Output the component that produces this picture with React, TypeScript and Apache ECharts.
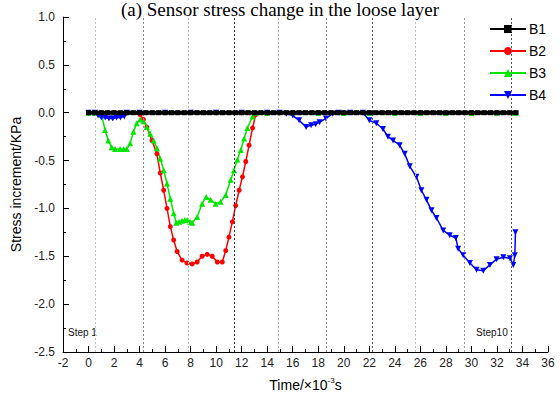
import React, { useEffect, useRef } from "react";
import * as echarts from "echarts";

const titleText = "(a) Sensor stress change in the loose layer";
const seriesNames = ["B1", "B2", "B3", "B4"];

const b1Time = [0, 0.5, 1, 1.5, 2, 2.5, 3, 3.5, 4, 4.5, 5, 5.5, 6, 6.5, 7, 7.5, 8, 8.5, 9, 9.5, 10, 10.5, 11, 11.5, 12, 12.5, 13, 13.5, 14, 14.5, 15, 15.5, 16, 16.5, 17, 17.5, 18, 18.5, 19, 19.5, 20, 20.5, 21, 21.5, 22, 22.5, 23, 23.5, 24, 24.5, 25, 25.5, 26, 26.5, 27, 27.5, 28, 28.5, 29, 29.5, 30, 30.5, 31, 31.5, 32, 32.5, 33, 33.5];
const b1Values = [0, 0, 0, 0, 0, 0, 0, 0, 0, 0, 0, 0, 0, 0, 0, 0, 0, 0, 0, 0, 0, 0, 0, 0, 0, 0, 0, 0, 0, 0, 0, 0, 0, 0, 0, 0, 0, 0, 0, 0, 0, 0, 0, 0, 0, 0, 0, 0, 0, 0, 0, 0, 0, 0, 0, 0, 0, 0, 0, 0, 0, 0, 0, 0, 0, 0, 0, 0];

const b2Time = [0, 1, 2, 3, 4.05, 4.3, 4.57, 4.97, 5.36, 5.62, 5.89, 6.15, 6.41, 6.67, 6.94, 7.33, 7.72, 8.12, 8.51, 8.9, 9.3, 9.69, 10.09, 10.48, 10.75, 11.0, 11.27, 11.53, 11.8, 12.06, 12.32, 12.58, 12.85, 13.1, 14, 16, 18, 20, 22, 24, 26, 28, 30, 32, 33.4];
const b2Values = [0, 0, 0, 0, -0.02, -0.07, -0.15, -0.29, -0.43, -0.63, -0.81, -1.0, -1.19, -1.33, -1.45, -1.54, -1.57, -1.58, -1.56, -1.5, -1.48, -1.5, -1.56, -1.56, -1.44, -1.3, -1.14, -0.97, -0.81, -0.67, -0.51, -0.34, -0.16, -0.02, 0, 0, 0, 0, 0, 0, 0, 0, 0, 0, 0];

const b3Time = [0, 0.5, 1.03, 1.29, 1.55, 1.81, 2.08, 2.47, 2.75, 3.0, 3.26, 3.52, 3.78, 4.05, 4.31, 4.57, 4.83, 5.1, 5.36, 5.62, 5.89, 6.15, 6.41, 6.67, 6.88, 7.1, 7.33, 7.55, 7.72, 7.95, 8.12, 8.51, 8.9, 9.22, 9.56, 9.96, 10.35, 10.75, 11.14, 11.4, 11.66, 11.93, 12.19, 12.45, 12.85, 13.1, 14, 16, 18, 20, 22, 24, 26, 28, 30, 32, 33.4];
const b3Values = [0, 0, -0.02, -0.18, -0.29, -0.36, -0.38, -0.38, -0.38, -0.38, -0.32, -0.2, -0.11, -0.07, -0.09, -0.15, -0.22, -0.29, -0.37, -0.48, -0.6, -0.74, -0.9, -1.05, -1.15, -1.14, -1.13, -1.12, -1.12, -1.14, -1.15, -1.09, -0.95, -0.88, -0.91, -0.95, -0.93, -0.86, -0.7, -0.6, -0.49, -0.39, -0.27, -0.16, -0.04, 0, 0, 0, 0, 0, 0, 0, 0, 0, 0, 0, 0];

const b4Time = [0, 0.5, 0.75, 1.0, 1.3, 1.6, 1.9, 2.2, 2.5, 2.8, 3.0, 4, 6, 8, 10, 12, 14, 14.95, 15.5, 16.0, 16.5, 17.05, 17.44, 17.8, 18.1, 18.6, 19.14, 19.6, 20.5, 21.5, 22.0, 22.55, 23.07, 23.46, 23.86, 24.38, 24.77, 25.17, 25.69, 26.08, 26.48, 26.87, 27.26, 27.79, 28.3, 28.78, 28.96, 29.36, 29.88, 30.4, 30.93, 31.45, 31.97, 32.5, 33.02, 33.28, 33.4, 33.45];
const b4Values = [0, 0, -0.03, -0.05, -0.05, -0.06, -0.06, -0.05, -0.05, -0.04, 0, 0, 0, 0, 0, 0, 0, 0, -0.01, -0.03, -0.08, -0.15, -0.13, -0.12, -0.1, -0.06, -0.01, 0, 0, 0, -0.08, -0.11, -0.17, -0.25, -0.29, -0.34, -0.43, -0.56, -0.67, -0.81, -0.91, -1.02, -1.1, -1.23, -1.28, -1.31, -1.42, -1.49, -1.57, -1.64, -1.65, -1.59, -1.53, -1.51, -1.52, -1.59, -1.49, -1.25];

const stepLineTimes = [0.5, 4.3, 7.8, 11.4, 14.9, 18.6, 22.2, 25.6, 29.4, 33.1];
const stepLineColors = ["#c4c4c4", "#8a8a8a", "#bdbdbd", "#333333", "#aaaaaa", "#8a8a8a", "#555555", "#bdbdbd", "#999999", "#555555"];

const stepLabels = ["Step 1", "Step10"];

const xTickMin = -2;
const xTickMax = 36;
const yTickMin = -2.5;
const yTickMax = 1.0;

function pairs(t: number[], v: number[]) {
  return t.map((x, i) => [x, v[i]]);
}

export default function App() {
  const ref = useRef<HTMLDivElement>(null);
  useEffect(() => {
    if (!ref.current) return;
    const chart = echarts.init(ref.current, null, { renderer: "svg" });
    const font = "'Liberation Sans', Arial, sans-serif";
    const colors = ["#000000", "#ff0000", "#00e600", "#0000ff"];
    const option: any = {
      animation: false,
      backgroundColor: "#ffffff",
      textStyle: { fontFamily: font },
      grid: { left: 63, right: 12, top: 17, bottom: 46, containLabel: false },
      legend: {
        orient: "vertical",
        left: 484,
        top: 17,
        itemWidth: 36,
        itemHeight: 10,
        itemGap: 8,
        data: seriesNames,
        textStyle: { fontSize: 14, color: "#000", fontFamily: font, padding: [0, 0, 0, -2] },
      },
      xAxis: {
        type: "value",
        min: xTickMin,
        max: xTickMax,
        interval: 2,
        name: "{a|Time/×10}{s|-3}{a|s}",
        nameLocation: "middle",
        nameGap: 24,
        nameTextStyle: {
          rich: {
            a: { fontSize: 14, color: "#000", fontFamily: font },
            s: { fontSize: 8, color: "#000", fontFamily: font, verticalAlign: "top", padding: [0, 0, 9, 0] },
          },
        },
        axisLine: { show: true, onZero: false, lineStyle: { color: "#000", width: 1 } },
        axisTick: { show: true, inside: true, length: 6, lineStyle: { color: "#000" } },
        minorTick: { show: true, splitNumber: 2, length: 3, lineStyle: { color: "#000" } },
        axisLabel: { fontSize: 12, color: "#222", margin: 5, fontFamily: font },
        splitLine: { show: false },
      },
      yAxis: {
        type: "value",
        min: yTickMin,
        max: yTickMax,
        interval: 0.5,
        name: "Stress increment/KPa",
        nameLocation: "middle",
        nameGap: 29,
        nameTextStyle: { fontSize: 14, color: "#000", fontFamily: font },
        axisLine: { show: true, onZero: false, lineStyle: { color: "#000", width: 1 } },
        axisTick: { show: true, inside: true, length: 6, lineStyle: { color: "#000" } },
        minorTick: { show: true, splitNumber: 2, length: 3, lineStyle: { color: "#000" } },
        axisLabel: {
          fontSize: 12,
          color: "#222",
          margin: 8,
          fontFamily: font,
          formatter: (v: number) => v.toFixed(1),
        },
        splitLine: { show: false },
      },
      series: [
        {
          name: "B1",
          type: "line",
          data: pairs(b1Time, b1Values),
          color: colors[0],
          symbol: "rect",
          symbolSize: 5,
          lineStyle: { width: 4, color: colors[0] },
          z: 5,
          markLine: {
            silent: true,
            symbol: "none",
            label: { show: false },
            data: stepLineTimes.map((t, i) => ({
              xAxis: t,
              lineStyle: { color: stepLineColors[i], type: [2, 2], width: 1 },
            })),
          },
        },
        {
          name: "B2",
          type: "line",
          data: pairs(b2Time, b2Values),
          color: colors[1],
          symbol: "circle",
          symbolSize: 5,
          lineStyle: { width: 1.5, color: colors[1] },
          z: 3,
        },
        {
          name: "B3",
          type: "line",
          data: pairs(b3Time, b3Values),
          color: colors[2],
          symbol: "triangle",
          symbolSize: 6,
          lineStyle: { width: 1.5, color: colors[2] },
          z: 3,
        },
        {
          name: "B4",
          type: "line",
          data: pairs(b4Time, b4Values),
          color: colors[3],
          symbol: "triangle",
          symbolRotate: 180,
          symbolSize: 6,
          lineStyle: { width: 1.5, color: colors[3] },
          z: 3,
        },
      ],
      graphic: [
        {
          type: "text",
          left: "center",
          top: 0,
          style: {
            text: titleText,
            font: "19px 'Liberation Serif', 'Times New Roman', serif",
            fill: "#000",
          },
        },
        {
          type: "text",
          x: 68,
          y: 327,
          style: { text: stepLabels[0], font: "10px 'Liberation Sans', Arial, sans-serif", fill: "#111" },
        },
        {
          type: "text",
          x: 476,
          y: 327,
          style: { text: stepLabels[1], font: "10px 'Liberation Sans', Arial, sans-serif", fill: "#111" },
        },
      ],
    };
    chart.setOption(option);
    return () => chart.dispose();
  }, []);
  return <div ref={ref} style={{ width: 560, height: 398, position: "fixed", left: 0, top: 0 }} />;
}
